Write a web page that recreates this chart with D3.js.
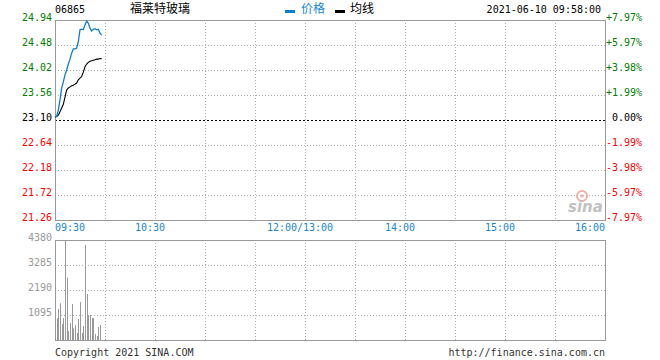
<!DOCTYPE html>
<html><head><meta charset="utf-8">
<script src="https://cdn.jsdelivr.net/npm/d3@7"></script>
<style>
html,body{margin:0;padding:0;background:#fff;}
svg{display:block;}
text{font-family:"DejaVu Sans Mono",monospace;font-size:10px;}
.cjk{font-family:"Noto Sans CJK SC",sans-serif;font-size:12px;}
</style></head>
<body>
<svg id="c" width="660" height="360"></svg>
<script>
// ---- data ----
const stockCode = "06865";
const stockName = "福莱特玻璃";
const timestamp = "2021-06-10 09:58:00";
const prevClose = 23.10;
const priceTicks = [24.94, 24.48, 24.02, 23.56, 23.10, 22.64, 22.18, 21.72, 21.26];
const pctTicks = ["+7.97%", "+5.97%", "+3.98%", "+1.99%", "0.00%", "-1.99%", "-3.98%", "-5.97%", "-7.97%"];
const volTicks = [4380, 3285, 2190, 1095];
const timeLabels = ["09:30", "10:30", "12:00/13:00", "14:00", "15:00", "16:00"];
const timeLabelMinutes = [0, 60, 150, 210, 270, 330];
const minutes = ["09:30","09:31","09:32","09:33","09:34","09:35","09:36","09:37","09:38","09:39",
                 "09:40","09:41","09:42","09:43","09:44","09:45","09:46","09:47","09:48","09:49",
                 "09:50","09:51","09:52","09:53","09:54","09:55","09:56","09:57","09:58"];
const prices = [23.15, 23.17, 23.28, 23.47, 23.69, 23.80, 23.93, 24.02, 24.13, 24.22,
                24.33, 24.41, 24.41, 24.42, 24.54, 24.76, 24.77, 24.76, 24.85, 24.92,
                24.88, 24.79, 24.74, 24.77, 24.78, 24.76, 24.77, 24.70, 24.66];
const avgPrices = [23.15, 23.165, 23.19, 23.25, 23.32, 23.39, 23.52, 23.65, 23.69, 23.71,
                   23.73, 23.74, 23.76, 23.78, 23.84, 23.87, 23.90, 23.98, 24.08, 24.13,
                   24.16, 24.18, 24.19, 24.20, 24.21, 24.22, 24.22, 24.23, 24.23];
const volMinutes = ["09:31","09:32","09:33","09:34","09:35","09:36","09:37","09:38","09:39","09:40",
                    "09:41","09:42","09:43","09:44","09:45","09:46","09:47","09:48","09:49","09:50",
                    "09:51","09:52","09:53","09:54","09:55","09:56","09:57"];
const volumes = [950, 1358, 1607, 700, 964, 4380, 2729, 394, 745, 1577,
                 512, 657, 307, 920, 1664, 307, 613, 4161, 2015, 1095,
                 1095, 964, 964, 263, 175, 569, 657];

// ---- helpers ----
function tradeMin(t){
  const [h,m] = t.split(":").map(Number);
  const mm = h*60+m;
  if (mm <= 12*60) return mm - (9*60+30);
  return 150 + (mm - 13*60);
}

const svg = d3.select("#c");
const L = 55, R = 605, T = 20, B = 220, VT = 240, VB = 340;
const x = d3.scaleLinear().domain([0, 330]).range([L, R]);
const y = d3.scaleLinear().domain([21.26, 24.94]).range([B, T]);
const yv = d3.scaleLinear().domain([0, 4380]).range([VB, VT]);

const green = "#008000", red = "#ff0000", blue = "#0a7fcf", grid = "#aaaaaa", border = "#999999";

// grids - main
const gx = d3.range(30, 330, 30);
svg.append("g").selectAll("line").data(gx).join("line")
  .attr("x1", d => Math.round(x(d))+0.5).attr("x2", d => Math.round(x(d))+0.5)
  .attr("y1", T).attr("y2", B)
  .attr("stroke", grid).attr("stroke-dasharray", "1,2");
svg.append("g").selectAll("line").data(priceTicks.filter(p => p !== prevClose && p !== 24.94 && p !== 21.26)).join("line")
  .attr("x1", L).attr("x2", R)
  .attr("y1", d => Math.round(y(d))+0.5).attr("y2", d => Math.round(y(d))+0.5)
  .attr("stroke", grid).attr("stroke-dasharray", "1,2");
svg.append("line").attr("x1", L).attr("x2", R)
  .attr("y1", Math.round(y(prevClose))+0.5).attr("y2", Math.round(y(prevClose))+0.5)
  .attr("stroke", "#000").attr("stroke-dasharray", "2,2");

// grids - volume
svg.append("g").selectAll("line").data(gx).join("line")
  .attr("x1", d => Math.round(x(d))+0.5).attr("x2", d => Math.round(x(d))+0.5)
  .attr("y1", VT).attr("y2", VB)
  .attr("stroke", grid).attr("stroke-dasharray", "1,2");
svg.append("g").selectAll("line").data(volTicks.slice(1)).join("line")
  .attr("x1", L).attr("x2", R)
  .attr("y1", d => Math.round(yv(d))+0.5).attr("y2", d => Math.round(yv(d))+0.5)
  .attr("stroke", grid).attr("stroke-dasharray", "1,2");

// borders
svg.append("rect").attr("x", L+0.5).attr("y", T+0.5).attr("width", R-L).attr("height", B-T)
  .attr("fill", "none").attr("stroke", border);
svg.append("rect").attr("x", L+0.5).attr("y", VT+0.5).attr("width", R-L).attr("height", VB-VT)
  .attr("fill", "none").attr("stroke", border);

// watermark
const wm = svg.append("g").attr("opacity", 0.9);
wm.append("circle").attr("cx", 582).attr("cy", 196).attr("r", 5).attr("fill", "none").attr("stroke", "#f3a6a6").attr("stroke-width", 2);
wm.append("circle").attr("cx", 582).attr("cy", 196).attr("r", 1.6).attr("fill", "#f3a6a6");
wm.append("text").attr("x", 568).attr("y", 212).text("sina")
  .attr("fill", "#bbbbbb").style("font-family", "DejaVu Sans").style("font-size", "15px")
  .style("font-style", "italic").style("font-weight", "bold");

// volume bars
svg.append("g").selectAll("line").data(volumes).join("line")
  .attr("x1", (d,i) => Math.round(x(tradeMin(volMinutes[i])))+0.5)
  .attr("x2", (d,i) => Math.round(x(tradeMin(volMinutes[i])))+0.5)
  .attr("y1", VB).attr("y2", d => yv(d))
  .attr("stroke", border).attr("stroke-width", 1);

// lines
const pts = minutes.map((t,i) => ({t: tradeMin(t), p: prices[i], a: avgPrices[i]}));
svg.append("path").datum(pts)
  .attr("d", d3.line().x(d => x(d.t)).y(d => y(d.a)))
  .attr("fill", "none").attr("stroke", "#000").attr("stroke-width", 1.1);
svg.append("path").datum(pts)
  .attr("d", d3.line().x(d => x(d.t)).y(d => y(d.p)))
  .attr("fill", "none").attr("stroke", blue).attr("stroke-width", 1.3);

// left price labels
svg.append("g").selectAll("text").data(priceTicks).join("text")
  .attr("x", 52).attr("y", d => y(d)+1).attr("text-anchor", "end")
  .attr("fill", d => d > prevClose ? green : (d < prevClose ? red : "#000"))
  .text(d => d.toFixed(2));
// right pct labels
svg.append("g").selectAll("text").data(pctTicks).join("text")
  .attr("x", 642).attr("y", (d,i) => y(priceTicks[i])+1).attr("text-anchor", "end")
  .attr("fill", d => d[0] === "+" ? green : (d[0] === "-" ? red : "#000"))
  .text(d => d);
// volume labels
svg.append("g").selectAll("text").data(volTicks).join("text")
  .attr("x", 52).attr("y", d => yv(d)+1).attr("text-anchor", "end")
  .attr("fill", "#999").text(d => d);
// time labels
svg.append("g").selectAll("text").data(timeLabels).join("text")
  .attr("x", (d,i) => i === 0 ? L : (i === timeLabels.length-1 ? R : x(timeLabelMinutes[i]) - 5))
  .attr("y", 231)
  .attr("text-anchor", (d,i) => i === 0 ? "start" : (i === timeLabels.length-1 ? "end" : "middle"))
  .attr("fill", "#1a86d0").text(d => d);

// header
svg.append("text").attr("x", 55).attr("y", 12.5).attr("fill", "#000").text(stockCode);
svg.append("text").attr("class", "cjk").attr("x", 130).attr("y", 13).attr("fill", "#000").text(stockName);
svg.append("rect").attr("x", 285).attr("y", 10).attr("width", 10).attr("height", 3).attr("fill", blue);
svg.append("text").attr("class", "cjk").attr("x", 301).attr("y", 13).attr("fill", "#1a86d0").text("价格");
svg.append("rect").attr("x", 335).attr("y", 10).attr("width", 10).attr("height", 3).attr("fill", "#000");
svg.append("text").attr("class", "cjk").attr("x", 350).attr("y", 13).attr("fill", "#000").text("均线");
svg.append("text").attr("x", 601).attr("y", 12.5).attr("text-anchor", "end").attr("fill", "#000").text(timestamp);

// footer
svg.append("text").attr("x", 55).attr("y", 356).attr("fill", "#333").text("Copyright 2021 SINA.COM");
svg.append("text").attr("x", 605).attr("y", 356).attr("text-anchor", "end").attr("fill", "#333").text("http://finance.sina.com.cn");
</script>
</body></html>
